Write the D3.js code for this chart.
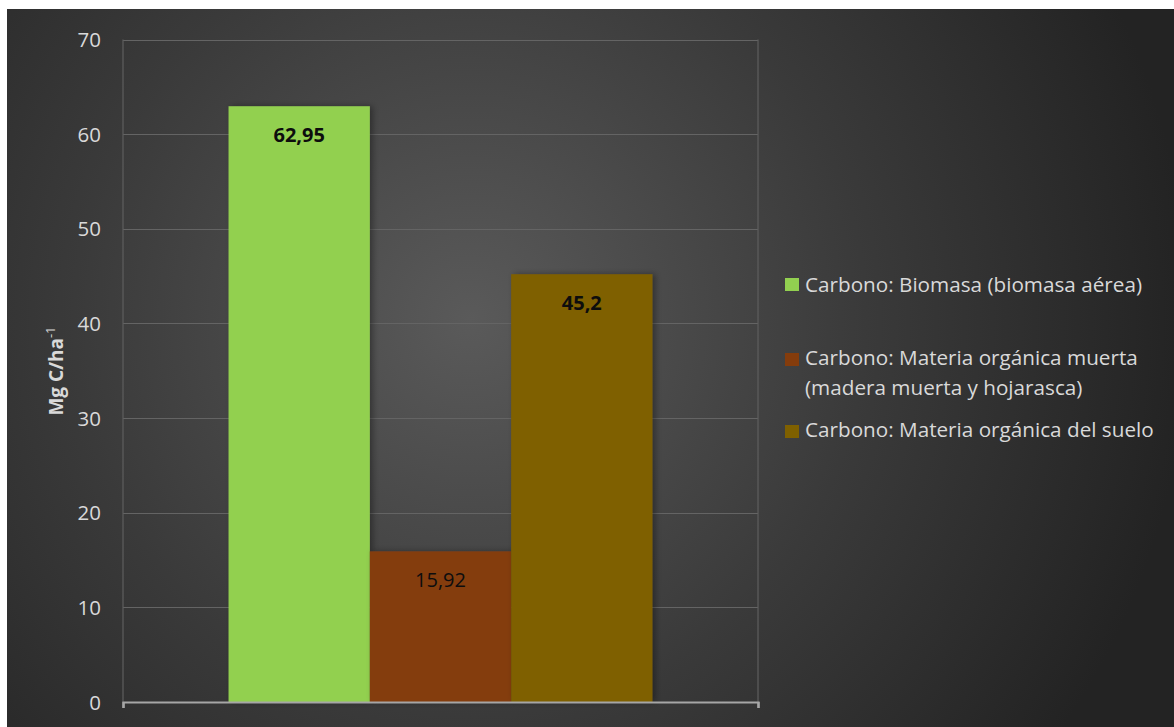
<!DOCTYPE html>
<html>
<head>
<meta charset="utf-8">
<script src="https://cdn.jsdelivr.net/npm/d3@7/dist/d3.min.js"></script>
<style>
  html, body { margin: 0; padding: 0; background: #ffffff; }
  svg { display: block; }
  text { font-family: "Open Sans", "Noto Sans", "Liberation Sans", sans-serif; }
</style>
</head>
<body>
<svg id="chart" width="1174" height="727"></svg>
<script>
const categories = ["Carbono"];
const seriesNames = [
  "Carbono: Biomasa (biomasa aérea)",
  "Carbono: Materia orgánica muerta (madera muerta y hojarasca)",
  "Carbono: Materia orgánica del suelo"
];
const legendLines = [
  ["Carbono: Biomasa (biomasa aérea)"],
  ["Carbono: Materia orgánica muerta", "(madera muerta y hojarasca)"],
  ["Carbono: Materia orgánica del suelo"]
];
const seriesValues = [62.95, 15.92, 45.2];
const valueLabels = ["62,95", "15,92", "45,2"];
const labelBold = [true, false, true];
const seriesColors = ["#92D050", "#843C0C", "#7F6000"];
const yTicks = [0, 10, 20, 30, 40, 50, 60, 70];
const yTitle = "Mg C/ha";
const yTitleSup = "-1";

const svg = d3.select("#chart");
const W = 1174, H = 727;

// background
const defs = svg.append("defs");
const rg = defs.append("radialGradient").attr("id", "bg")
  .attr("gradientUnits", "userSpaceOnUse")
  .attr("cx", 470).attr("cy", 320).attr("r", 720);
rg.append("stop").attr("offset", "0%").attr("stop-color", "#5a5a5a");
rg.append("stop").attr("offset", "55%").attr("stop-color", "#3a3a3a");
rg.append("stop").attr("offset", "100%").attr("stop-color", "#232323");
const sh = defs.append("filter").attr("id", "shadow").attr("x", "-10%").attr("y", "-10%").attr("width", "130%").attr("height", "130%");
sh.append("feDropShadow").attr("dx", 3).attr("dy", 0).attr("stdDeviation", 3).attr("flood-color", "#000").attr("flood-opacity", 0.35);

svg.append("rect").attr("x", 7).attr("y", 9).attr("width", W - 7).attr("height", H - 9).attr("fill", "url(#bg)");

const plot = { left: 123, right: 758, top: 39.5, bottom: 702 };

const y = d3.scaleLinear().domain([0, 70]).range([plot.bottom, plot.top]);
const x0 = d3.scaleBand().domain(categories).range([plot.left, plot.right]).paddingInner(0).paddingOuter(0.249);
const x1 = d3.scaleBand().domain(d3.range(seriesValues.length)).range([0, x0.bandwidth()]).padding(0);

// gridlines
svg.append("g").selectAll("line").data(yTicks.filter(d => d > 0)).join("line")
  .attr("x1", plot.left).attr("x2", plot.right)
  .attr("y1", d => Math.round(y(d)) + 0.5).attr("y2", d => Math.round(y(d)) + 0.5)
  .attr("stroke", "#646464").attr("stroke-width", 1.2);
// vertical plot edges
[plot.left, plot.right].forEach(px => {
  svg.append("line").attr("x1", px).attr("x2", px).attr("y1", plot.top).attr("y2", plot.bottom)
    .attr("stroke", "#5e5e5e").attr("stroke-width", 1.2);
});

// y axis
const yAxis = d3.axisLeft(y).tickValues(yTicks).tickSize(0).tickPadding(22).tickFormat(d3.format("d"));
const gy = svg.append("g").attr("transform", `translate(${plot.left},0)`).call(yAxis);
gy.select(".domain").remove();
gy.selectAll("text").attr("fill", "#d9d9d9").style("font-size", "20.5px").attr("dy", "0.35em");

// bars
const g = svg.append("g").attr("transform", `translate(${x0(categories[0])},0)`);
g.selectAll("rect").data(seriesValues).join("rect")
  .attr("x", (d, i) => x1(i)).attr("width", x1.bandwidth())
  .attr("y", d => y(d)).attr("height", d => y(0) - y(d))
  .attr("fill", (d, i) => seriesColors[i])
  .attr("filter", "url(#shadow)");

// value labels
g.selectAll("text.val").data(seriesValues).join("text").attr("class", "val")
  .attr("x", (d, i) => x1(i) + x1.bandwidth() / 2)
  .attr("y", d => y(d) + 36)
  .attr("text-anchor", "middle")
  .attr("fill", "#0d0d0d")
  .style("font-size", "20px")
  .style("font-weight", (d, i) => labelBold[i] ? "bold" : "normal")
  .text((d, i) => valueLabels[i]);

// x axis
const xAxis = d3.axisBottom(d3.scaleLinear().domain([0, 1]).range([plot.left, plot.right]))
  .tickValues([0, 1]).tickSize(6).tickFormat("");
const gx = svg.append("g").attr("transform", `translate(0,${plot.bottom})`).call(xAxis);
gx.select(".domain").attr("stroke", "#a6a6a6").attr("stroke-width", 2.2);
gx.selectAll(".tick line").attr("stroke", "#a6a6a6").attr("stroke-width", 2.2);

// y title
const yt = svg.append("text")
  .attr("transform", `translate(63,${371}) rotate(-90)`)
  .attr("text-anchor", "middle")
  .attr("fill", "#d9d9d9")
  .style("font-size", "19px").style("font-weight", "bold");
yt.append("tspan").text(yTitle);
yt.append("tspan").attr("dy", -8).style("font-size", "13px").style("font-weight", "normal").text(yTitleSup);

// legend
const legendSq = [278, 353, 425];
const legendBase = [292, 365, 437];
const lg = svg.append("g");
legendLines.forEach((lines, i) => {
  lg.append("rect").attr("x", 785).attr("y", legendSq[i]).attr("width", 14).attr("height", 13).attr("fill", seriesColors[i]);
  lines.forEach((ln, j) => {
    lg.append("text").attr("x", 805).attr("y", legendBase[i] + j * 30)
      .attr("fill", "#d9d9d9").style("font-size", "20.7px").text(ln);
  });
});
</script>
</body>
</html>
